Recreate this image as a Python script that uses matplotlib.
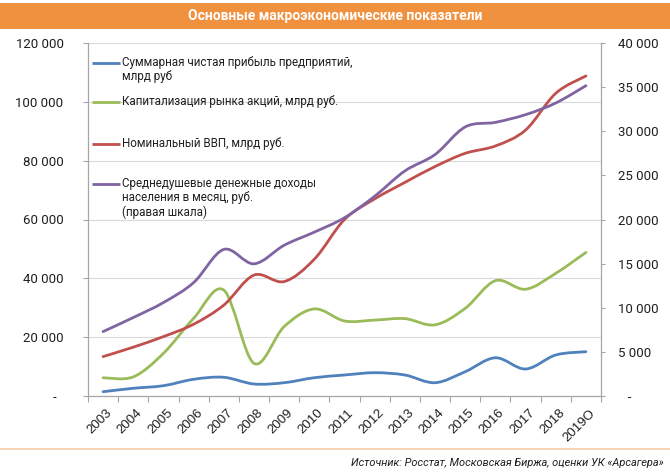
import matplotlib

matplotlib.use("Agg")

import matplotlib.pyplot as plt
import numpy as np
from matplotlib.lines import Line2D
from matplotlib.patches import PathPatch, Rectangle
from matplotlib.path import Path
from matplotlib.transforms import ScaledTranslation

# --- data ---
years = ["2003", "2004", "2005", "2006", "2007", "2008", "2009", "2010", "2011",
         "2012", "2013", "2014", "2015", "2016", "2017", "2018", "2019O"]
# left axis, bln rub
profit = [1460, 2620, 3500, 5680, 6360, 4080, 4520, 6220, 7140,
          7920, 7140, 4520, 8260, 13000, 9180, 13940, 15060]
market_cap = [6200, 6500, 14500, 26400, 36000, 11100, 23600, 29600, 25500,
              25800, 26300, 24200, 29800, 39200, 36300, 41700, 48800]
gdp = [13400, 16600, 20200, 24400, 30900, 41100, 38900, 46500, 60000,
       67000, 72600, 78000, 82500, 85000, 90400, 102900, 108800]
# right axis, rub per month
income = [7300, 8890, 10590, 12850, 16610, 14980, 17080, 18570, 20200,
          22640, 25500, 27360, 30490, 31010, 31880, 33200, 35160]

left_ticks = [0, 20000, 40000, 60000, 80000, 100000, 120000]
right_ticks = [0, 5000, 10000, 15000, 20000, 25000, 30000, 35000, 40000]

series = [
    ("Суммарная чистая прибыль предприятий,\nмлрд руб", profit, "#4F81BD", "left"),
    ("Капитализация рынка акций, млрд руб.", market_cap, "#9BBB59", "left"),
    ("Номинальный ВВП, млрд руб.", gdp, "#C0504D", "left"),
    ("Среднедушевые денежные доходы\nнаселения в месяц, руб.\n(правая шкала)",
     income, "#8064A2", "right"),
]

TEXT = "#1f1f1f"
AXIS = "#a6a6a6"
plt.rcParams["font.family"] = ["Roboto", "DejaVu Sans"]


def smooth_path(xs, ys):
    """Excel-style smoothed line: Catmull-Rom segments as cubic Beziers."""
    pts = np.column_stack([xs, ys]).astype(float)
    padded = np.vstack([pts[0], pts, pts[-1]])
    verts = [pts[0]]
    codes = [Path.MOVETO]
    for i in range(len(pts) - 1):
        p0, p1, p2, p3 = padded[i], padded[i + 1], padded[i + 2], padded[i + 3]
        verts += [p1 + (p2 - p0) / 6, p2 - (p3 - p1) / 6, p2]
        codes += [Path.CURVE4] * 3
    return Path(verts, codes)


def fmt(value, right=False):
    if value == 0:
        return "   -" if right else "-  "
    return f"{value:,}".replace(",", " ")


W, H = 670, 474
fig = plt.figure(figsize=(W / 100, H / 100), dpi=100)
ax = fig.add_axes([88 / W, 1 - 396 / H, (601 - 88) / W, (396 - 43) / H])
ax2 = ax.twinx()

x = np.arange(len(years))
ax.set_xlim(-0.5, len(years) - 0.5)
ax.set_ylim(left_ticks[0], left_ticks[-1])
ax2.set_ylim(right_ticks[0], right_ticks[-1])

for label, values, color, side in series:
    target = ax2 if side == "right" else ax
    target.add_patch(PathPatch(smooth_path(x, values), fill=False, edgecolor=color,
                               lw=2.0, capstyle="round", joinstyle="round"))

# axes styling
ax.set_yticks(left_ticks)
ax.set_yticklabels([fmt(v) for v in left_ticks])
ax2.set_yticks(right_ticks)
ax2.set_yticklabels([fmt(v, right=True) for v in right_ticks])
ax.yaxis.grid(True, color="#d9d9d9", lw=0.8)
ax.set_axisbelow(True)
ax.tick_params(axis="y", length=3.6, width=0.8, color=AXIS, pad=14, labelsize=9.5,
               labelcolor=TEXT)
ax2.tick_params(axis="y", length=2.6, width=0.8, color=AXIS, pad=9.5, labelsize=9.5,
                labelcolor=TEXT)

ax.set_xticks(x)
ax.set_xticklabels(years, rotation=45, ha="right", rotation_mode="anchor",
                   fontsize=9.5, color=TEXT, family=["Liberation Sans", "DejaVu Sans"])
ax.set_xticks(np.arange(-0.5, len(years)), minor=True)
ax.tick_params(axis="x", which="major", length=0, pad=8)
ax.tick_params(axis="x", which="minor", length=4, width=0.8, color=AXIS)
shift = ScaledTranslation(3 / 100, 0, fig.dpi_scale_trans)
for lbl in ax.get_xticklabels():
    lbl.set_transform(lbl.get_transform() + shift)

for name in ("top", "right"):
    ax.spines[name].set_visible(False)
for name in ("top", "left", "bottom"):
    ax2.spines[name].set_visible(False)
for sp in (ax.spines["left"], ax.spines["bottom"], ax2.spines["right"]):
    sp.set_color(AXIS)
    sp.set_linewidth(0.9)

# legend drawn inside the plot area, Excel style
legend_y = [0.944, 0.832, 0.714, 0.6006]
for (label, values, color, side), ly in zip(series, legend_y):
    ax.add_line(Line2D([0.008, 0.062], [ly, ly], transform=ax.transAxes, color=color,
                       lw=2.0, solid_capstyle="butt"))
    ax.text(0.066, ly + 0.02, label, transform=ax.transAxes, ha="left", va="top",
            fontsize=8.4, color=TEXT, linespacing=1.15)

# header banner and footer
fig.add_artist(Rectangle((0, 1 - 29 / H), 1, 26 / H, transform=fig.transFigure,
                         facecolor="#F0913F", edgecolor="none"))
fig.text(0.5, 1 - 16 / H, "Основные макроэкономические показатели", ha="center",
         va="center", color="white", fontsize=10, fontweight="bold",
         family=["Liberation Sans Narrow", "Roboto", "DejaVu Sans"])
fig.add_artist(Line2D([0, 1], [1 - 449 / H] * 2, transform=fig.transFigure,
                      color="#F5CBA3", lw=1.2))
fig.text(664 / W, 1 - 463 / H, "Источник: Росстат, Московская Биржа, оценки УК «Арсагера»",
         ha="right", va="center", color=TEXT, fontsize=7.9, style="italic",
         family=["Liberation Sans Narrow", "Roboto", "DejaVu Sans"])

fig.savefig("out.png", dpi=100)
